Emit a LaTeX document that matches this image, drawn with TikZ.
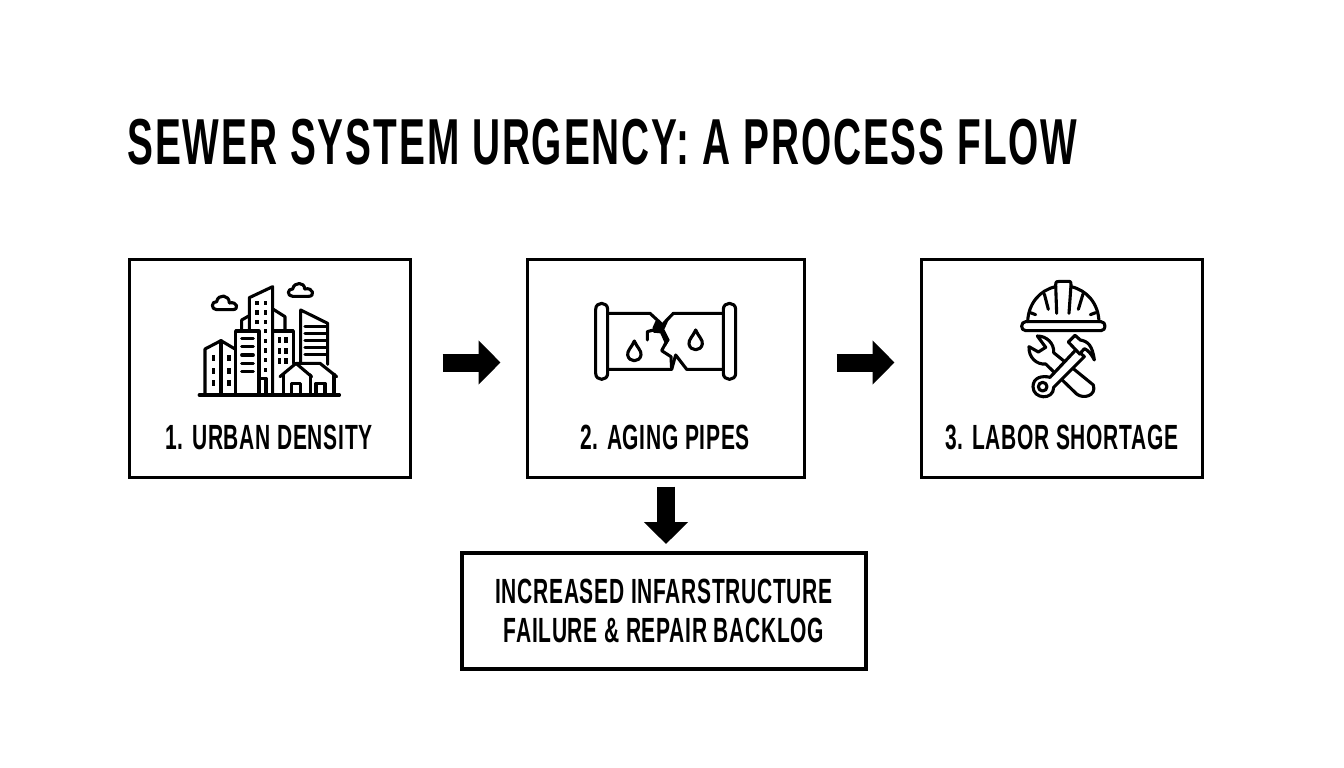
\documentclass[tikz,border=0pt]{standalone}
\usepackage{fontspec}
\setmainfont{Liberation Sans}
\newfontfamily\titlefont[FakeStretch=0.597,LetterSpace=3]{Liberation Sans Bold}
\newfontfamily\labelfont[FakeStretch=0.60,LetterSpace=2]{Liberation Sans Bold}
\usetikzlibrary{arrows.meta}
\tikzset{
  stepbox/.style={draw=black, line width=3.6pt, inner sep=0pt, outer sep=0pt},
  steplabel/.style={font=\labelfont\fontsize{35}{39}\selectfont, align=center, inner sep=0pt, text=black},
  blockarrow/.style={line width=18pt, -{Triangle[length=22pt,width=43pt]}},
  iconline/.style={line width=3.1pt, line join=round, line cap=round},
}
\begin{document}
\begin{tikzpicture}[x=1pt,y=-1pt]
    \useasboundingbox (0,0) rectangle (1344,768);
    \fill[white] (0,0) rectangle (1344,768);

    \node[anchor=west, inner sep=0pt, font=\titlefont\fontsize{65}{70}\selectfont] (heading) at (127,142) {SEWER SYSTEM URGENCY: A PROCESS FLOW};

    \node[stepbox, minimum width=281pt, minimum height=218pt] (urban) at (270,368.5) {};
    \node[stepbox, minimum width=277pt, minimum height=218pt] (aging) at (666,368.5) {};
    \node[stepbox, minimum width=281pt, minimum height=218pt] (labor) at (1062,368.5) {};
    \node[stepbox, minimum width=404pt, minimum height=116pt] (backlog) at (664,611) {};

    \node[steplabel] (urbantext) at (269,437) {1. URBAN DENSITY};
    \node[steplabel] (agingtext) at (665,437) {2. AGING PIPES};
    \node[steplabel] (labortext) at (1062,437) {3. LABOR SHORTAGE};
    \node[steplabel] (backlogtext) at (664,611) {INCREASED INFARSTRUCTURE\\FAILURE \& REPAIR BACKLOG};

    \draw[blockarrow] ([xshift=32pt,yshift=6pt]urban.east) -- ([xshift=-27pt,yshift=6pt]aging.west);
    \draw[blockarrow] ([xshift=32pt,yshift=6pt]aging.east) -- ([xshift=-27pt,yshift=6pt]labor.west);
    \draw[blockarrow] ([yshift=-9pt]aging.south) -- ([yshift=9pt]aging.south |- backlog.north);

    % city
    \begin{scope}[shift={(190,275)}, scale=1/3]
        \draw[iconline, line width=3.4pt] (28,360) -- (448,360);
        \draw[iconline] (45,360) -- (45,222) -- (93,197) -- (135,222);
        \draw[iconline] (93,197) -- (93,360);
        \draw[iconline] (137,360) -- (137,168) -- (207,168) -- (207,360);
        \draw[iconline] (178,168) -- (178,68) -- (248,35) -- (248,360);
        \draw[iconline] (207,310) -- (228,310) -- (228,360);
        \draw[iconline] (155,165) -- (155,135) -- (178,122);
        \draw[iconline] (250,103) -- (285,125) -- (285,165);
        \draw[iconline] (250,168) -- (310,168) -- (310,265);
        \draw[iconline] (332,262) -- (332,105) -- (413,145) -- (413,268);
        \draw[iconline] (270,305) -- (318,265) -- (365,305);
        \draw[iconline] (318,265) -- (390,265) -- (440,305);
        \draw[iconline] (280,298) -- (280,360);
        \draw[iconline] (362,300) -- (362,360);
        \draw[iconline] (432,298) -- (432,360);
        \draw[iconline] (305,360) -- (305,325) -- (332,325) -- (332,360);
        \draw[iconline] (378,360) -- (378,325) -- (405,325) -- (405,360);
        \draw[iconline] (155,190) -- (190,190);
        \draw[iconline] (155,215) -- (190,215);
        \draw[iconline] (155,240) -- (190,240);
        \draw[iconline] (155,265) -- (190,265);
        \draw[iconline] (155,290) -- (190,290);
        \draw[iconline] (345,155) -- (410,155);
        \draw[iconline] (345,176) -- (410,176);
        \draw[iconline] (345,197) -- (410,197);
        \draw[iconline] (345,217) -- (410,217);
        \draw[iconline] (345,238) -- (410,238);
        \fill (65,240) rectangle (76,259);
        \fill (65,278) rectangle (76,296);
        \fill (65,315) rectangle (76,333);
        \fill (111,240) rectangle (122,259);
        \fill (111,278) rectangle (122,296);
        \fill (111,315) rectangle (122,333);
        \fill (196,77) rectangle (207,90);
        \fill (221,77) rectangle (232,90);
        \fill (196,106) rectangle (207,119);
        \fill (221,106) rectangle (232,119);
        \fill (196,134) rectangle (207,147);
        \fill (221,134) rectangle (232,147);
        \fill (221,162) rectangle (232,175);
        \fill (221,191) rectangle (232,204);
        \fill (221,220) rectangle (232,233);
        \fill (221,249) rectangle (232,262);
        \fill (221,278) rectangle (232,291);
        \fill (263,186) rectangle (274,205);
        \fill (283,186) rectangle (294,205);
        \fill (263,218) rectangle (274,237);
        \fill (283,218) rectangle (294,237);
        \fill (263,248) rectangle (274,267);
        \fill (283,248) rectangle (294,267);
        \draw[iconline] (80,104) .. controls (62,104) and (64,78) .. (80,80) .. controls (84,56) and (118,58) .. (118,84) .. controls (142,78) and (148,104) .. (128,104) -- cycle;
        \draw[iconline] (308,64) .. controls (290,64) and (292,40) .. (308,42) .. controls (312,20) and (344,20) .. (344,42) .. controls (370,36) and (376,64) .. (356,64) -- cycle;
    \end{scope}

    % pipe
    \begin{scope}[shift={(585,290)}, scale=1/3]
        \draw[iconline] (32,58) .. controls (32,34) and (68,34) .. (68,58) -- (68,250) .. controls (68,274) and (32,274) .. (32,250) -- cycle;
        \draw[iconline] (415,58) .. controls (415,34) and (452,34) .. (452,58) -- (452,250) .. controls (452,274) and (415,274) .. (415,250) -- cycle;
        \draw[iconline] (70,70) -- (195,70) -- (232,104);
        \draw[iconline] (415,70) -- (265,70) -- (236,100);
        \draw[iconline] (70,238) -- (260,238) -- (272,195) -- (305,238) -- (415,238);
        \fill (203,112) -- (212,92) -- (232,102) -- (250,92) -- (238,118) -- (254,150) -- (243,168) -- (226,130) -- (205,128) -- cycle;
        \draw[iconline] (187,150) -- (187,125) -- (212,118);
        \draw[iconline] (247,150) -- (230,182) -- (258,200) -- (260,238);
        \draw[iconline] (148,153) .. controls (140,172) and (126,182) .. (128,195) .. controls (132,218) and (164,218) .. (168,195) .. controls (170,182) and (156,172) .. (148,153) -- cycle;
        \draw[iconline] (332,120) .. controls (324,139) and (310,149) .. (312,162) .. controls (316,185) and (348,185) .. (352,162) .. controls (354,149) and (340,139) .. (332,120) -- cycle;
    \end{scope}

    % helmet and tools
    \begin{scope}[shift={(1005,270)}, scale=1/3]
        \draw[iconline] (62,155) -- (288,155) .. controls (304,155) and (304,182) .. (288,182) -- (62,182) .. controls (46,182) and (46,155) .. (62,155) -- cycle;
        \draw[iconline] (68,155) .. controls (70,100) and (105,60) .. (152,50);
        \draw[iconline] (282,155) .. controls (280,100) and (245,60) .. (198,50);
        \draw[iconline] (155,130) -- (152,45) .. controls (152,34) and (156,34) .. (165,34) -- (186,34) .. controls (196,34) and (198,34) .. (198,45) -- (192,130);
        \draw[iconline] (118,72) -- (130,118);
        \draw[iconline] (234,72) -- (220,118);
        \draw[iconline] (76,128) -- (92,134);
        \draw[iconline] (272,128) -- (256,134);
        % wrench
        \draw[iconline] (97,198) .. controls (125,198) and (148,220) .. (146,248) -- (265,345) .. controls (275,378) and (235,388) .. (215,372) -- (122,282) .. controls (95,285) and (70,262) .. (72,230) -- (100,246) -- (122,232) -- cycle;
        % hammer
        \draw[iconline, fill=white] (135,322) -- (214,238) -- (238,260) -- (146,352) .. controls (146,392) and (84,388) .. (84,350) .. controls (84,322) and (112,316) .. (135,322) -- cycle;
        \draw[iconline] (113,350) circle[radius=13];
        \draw[iconline, fill=white] (190,216) -- (210,196) -- (226,210) .. controls (248,214) and (262,225) .. (268,270) .. controls (258,250) and (248,240) .. (238,236) -- (224,252) -- cycle;
    \end{scope}
\end{tikzpicture}
\end{document}
